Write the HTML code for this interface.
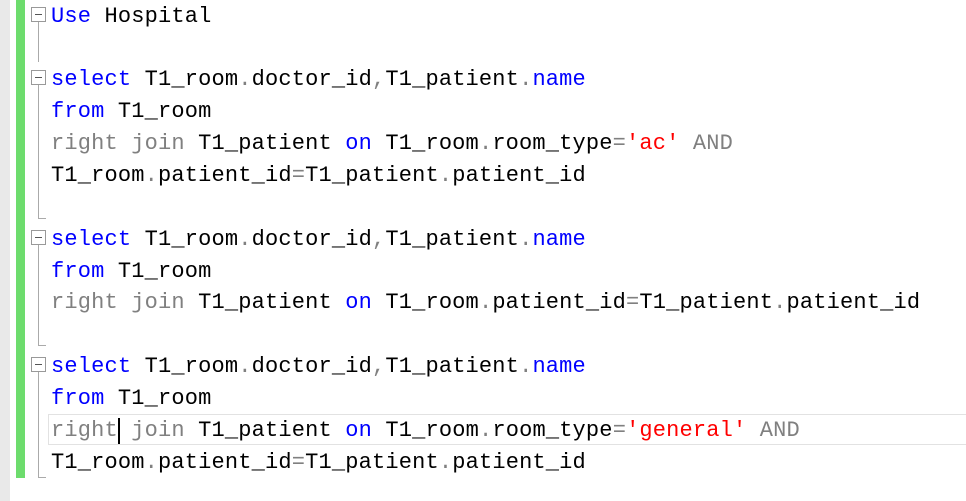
<!DOCTYPE html>
<html><head><style>
body{margin:0;width:966px;height:501px;background:#fff;position:relative;overflow:hidden;font-family:"Liberation Mono",monospace;}
.g1{position:absolute;left:0;top:0;width:10px;height:501px;background:#e9e9e9;}
.g2{position:absolute;left:16px;top:0;width:9px;height:478px;background:#6ddc6d;}
.l{position:absolute;left:51px;font-size:22px;letter-spacing:0.17px;line-height:30px;white-space:pre;color:#000;margin-top:2px;}
.k{color:#0000ff}.g{color:#808080}.r{color:#ff0000}
.box{position:absolute;left:31px;width:13px;height:13px;border:1px solid #999;background:#fff;}
.box:after{content:"";position:absolute;left:3px;top:6px;width:7px;height:1px;background:#555;}
.v{position:absolute;left:38px;width:1px;background:#aaa;}
.t{position:absolute;left:38px;width:8px;height:1px;background:#aaa;}
.cur{position:absolute;left:48px;top:414px;width:930px;height:29px;border:1px solid #e2e2e2;}
</style></head><body>
<div class="g1"></div><div class="g2"></div>
<div class="cur"></div>
<div class="box" style="top:7px"></div><div class="v" style="top:22px;height:40px"></div>
<div class="box" style="top:70px"></div><div class="v" style="top:85px;height:134px"></div><div class="t" style="top:218px"></div>
<div class="box" style="top:230px"></div><div class="v" style="top:245px;height:101px"></div><div class="t" style="top:345px"></div>
<div class="box" style="top:357px"></div><div class="v" style="top:372px;height:106px"></div><div class="t" style="top:477px"></div>
<div class="l" style="top:0px"><span class="k">Use</span> Hospital</div>
<div class="l" style="top:63px"><span class="k">select</span> T1_room<span class="g">.</span>doctor_id<span class="g">,</span>T1_patient<span class="g">.</span><span class="k">name</span></div>
<div class="l" style="top:95px"><span class="k">from</span> T1_room</div>
<div class="l" style="top:127px"><span class="g">right join</span> T1_patient <span class="k">on</span> T1_room<span class="g">.</span>room_type<span class="g">=</span><span class="r">'ac'</span> <span class="g">AND</span></div>
<div class="l" style="top:159px">T1_room<span class="g">.</span>patient_id<span class="g">=</span>T1_patient<span class="g">.</span>patient_id</div>
<div class="l" style="top:223px"><span class="k">select</span> T1_room<span class="g">.</span>doctor_id<span class="g">,</span>T1_patient<span class="g">.</span><span class="k">name</span></div>
<div class="l" style="top:255px"><span class="k">from</span> T1_room</div>
<div class="l" style="top:286px"><span class="g">right join</span> T1_patient <span class="k">on</span> T1_room<span class="g">.</span>patient_id<span class="g">=</span>T1_patient<span class="g">.</span>patient_id</div>
<div class="l" style="top:350px"><span class="k">select</span> T1_room<span class="g">.</span>doctor_id<span class="g">,</span>T1_patient<span class="g">.</span><span class="k">name</span></div>
<div class="l" style="top:382px"><span class="k">from</span> T1_room</div>
<div class="l" style="top:414px"><span class="g">right</span><span style="position:relative"><span style="position:absolute;left:0;top:0px;width:2px;height:26px;background:#000"></span></span><span class="g"> join</span> T1_patient <span class="k">on</span> T1_room<span class="g">.</span>room_type<span class="g">=</span><span class="r">'general'</span> <span class="g">AND</span></div>
<div class="l" style="top:446px">T1_room<span class="g">.</span>patient_id<span class="g">=</span>T1_patient<span class="g">.</span>patient_id</div>
</body></html>
